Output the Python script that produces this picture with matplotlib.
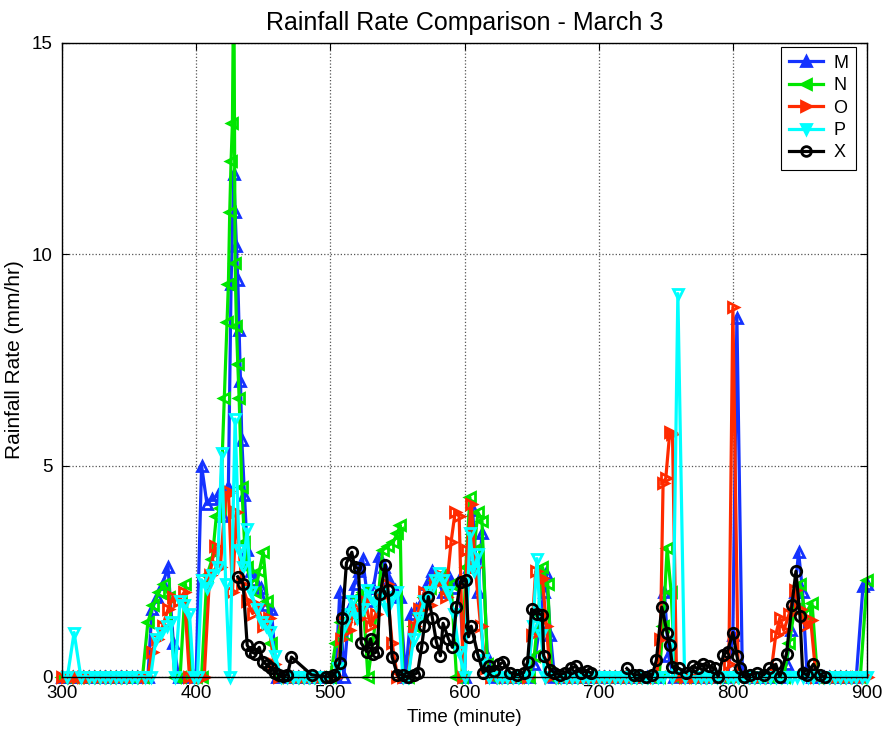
import numpy as np
import matplotlib
matplotlib.use("Agg")
import matplotlib.pyplot as plt
from matplotlib.lines import Line2D

plt.rcParams['font.family'] = ['Liberation Sans', 'DejaVu Sans']

# ---------------- Dados (minuto do dia, mm/h) ----------------
# instantes sem chuva, amostrados a cada 4 min
dry_times = np.arange(300, 901, 4)

m_time = [364, 367, 371, 375, 379, 383, 387, 395, 400, 404, 408, 412, 416, 420, 424, 426, 428, 429, 430, 431,
          432, 433, 434, 436, 438, 441, 444, 448, 452, 456, 460,
          500, 504, 507, 510, 514, 518, 521, 524, 528, 532, 536, 540, 544, 548, 552, 556, 560, 564, 568, 572,
          576, 580, 584, 588, 592, 596, 600, 603, 606, 610, 613, 617, 621,
          648, 652, 656, 659, 661, 664, 667,
          744, 749, 752, 756,
          796, 800, 803, 807, 811,
          836, 840, 843, 846, 849, 852, 855, 859,
          892, 897, 900]
m_rate = [0, 1.6, 1.9, 2.2, 2.6, 0.8, 0, 0, 0.1, 5.0, 4.1, 4.2, 4.3, 3.8, 4.5, 9.3, 11.9, 11.0, 10.2, 9.4,
          8.2, 7.0, 5.6, 4.3, 3.0, 2.5, 2.3, 2.1, 1.7, 1.6, 0,
          0, 0, 2.0, 0, 1.6, 2.2, 2.5, 2.8, 1.8, 2.1, 2.85, 2.6, 2.3, 2.05, 1.9, 0, 1.5, 1.6, 1.8, 2.2,
          2.5, 2.3, 2.0, 2.4, 2.1, 2.3, 0, 2.6, 3.95, 2.0, 3.4, 0.5, 0,
          0, 0.3, 1.2, 2.0, 2.45, 1.0, 0,
          0, 2.0, 0.5, 0,
          0, 1.0, 8.5, 0.2, 0,
          0, 0.3, 1.1, 2.0, 2.95, 2.0, 0.2, 0,
          0, 2.15, 2.2]

n_time = [360, 364, 368, 372, 376, 380, 384, 388, 392, 396, 400, 404, 408, 412, 415, 418, 421, 423, 424, 425,
          426, 427, 428, 429, 430, 431, 432, 434, 436, 438, 441, 444, 447, 450, 453, 456, 460,
          500, 504, 508, 512, 516, 520, 524, 528, 532, 536, 539, 543, 547, 550, 552, 554, 558, 562, 566, 570,
          574, 578, 582, 586, 590, 594, 598, 601, 604, 607, 610, 613, 617, 621,
          648, 652, 655, 658, 662, 665,
          745, 748, 751, 754, 757,
          838, 842, 846, 850, 854, 859, 863,
          895, 900]
n_rate = [0, 1.3, 1.7, 2.0, 2.2, 1.9, 0, 0, 2.2, 0, 0, 0, 2.4, 2.8, 3.8, 4.0, 6.6, 8.4, 9.3, 11.0,
          12.2, 13.1, 17.0, 9.8, 8.3, 7.4, 6.6, 4.5, 3.2, 2.6, 2.2, 2.0, 2.5, 2.95, 1.8, 0.8, 0,
          0, 0.8, 1.3, 1.0, 1.5, 1.9, 2.0, 0, 0.9, 2.0, 3.0, 3.1, 3.2, 3.4, 3.6, 0, 0, 1.2, 1.5, 1.9,
          2.1, 2.3, 2.4, 2.0, 2.2, 0, 0, 2.6, 4.25, 3.0, 3.9, 3.7, 0.3, 0,
          0, 0.5, 1.5, 2.6, 2.2, 0,
          0, 1.2, 3.05, 2.0, 0,
          0, 0.8, 1.6, 2.2, 1.5, 1.75, 0,
          0, 2.3]

o_time = [360, 364, 367, 371, 375, 379, 383, 387, 391, 395, 399, 403, 406, 410, 414, 418, 422, 424, 427, 430,
          434, 438, 442, 446, 450, 454, 458, 462,
          500, 504, 508, 511, 514, 518, 522, 526, 530, 534, 538, 542, 546, 550, 554, 558, 562, 566, 570, 574,
          578, 582, 586, 590, 593, 596, 599, 602, 605, 608, 612, 616, 620,
          647, 650, 653, 656, 658, 661, 664,
          743, 746, 748, 750, 753, 755, 758,
          795, 797, 800, 804,
          828, 832, 835, 838, 842, 846, 850, 854, 858, 862]
o_rate = [0, 0, 0.6, 0.9, 1.2, 1.6, 1.9, 1.8, 2.0, 0, 0, 0, 0, 2.4, 3.1, 2.6, 4.3, 4.4, 2.0, 3.9,
          2.2, 1.8, 1.5, 1.7, 1.2, 1.4, 0.3, 0,
          0, 0, 0.9, 1.3, 1.1, 1.65, 1.4, 1.8, 1.2, 1.5, 1.9, 2.2, 0.8, 0, 0, 0, 1.2, 1.6, 2.0, 1.7,
          2.2, 2.4, 1.9, 3.2, 3.9, 3.8, 0, 3.0, 4.1, 2.6, 1.2, 0.2, 0,
          0, 1.0, 2.5, 2.3, 2.35, 1.2, 0,
          0, 0.9, 4.6, 4.7, 5.8, 5.75, 0,
          0, 0.3, 8.75, 0,
          0, 1.0, 1.4, 1.1, 1.5, 2.05, 1.6, 1.2, 1.35, 0]

p_time = [304, 309, 314,
          362, 366, 370, 374, 378, 381, 384, 388, 391, 395, 398, 401, 404, 408, 412, 416, 419, 422, 425, 429,
          432, 435, 438, 441, 445, 449, 452, 455, 459, 463,
          502, 506, 510, 513, 516, 520, 524, 527, 530, 534, 538, 542, 546, 550, 554, 558, 562, 566, 570, 574,
          578, 581, 584, 588, 592, 596, 600, 604, 607, 610, 614, 618,
          647, 651, 654, 657, 660,
          755, 759, 764]
p_rate = [0, 1.05, 0,
          0, 0, 0.9, 1.05, 1.2, 1.3, 0, 1.8, 1.7, 1.5, 0, 0, 2.3, 2.1, 2.4, 2.6, 5.3, 2.2, 0, 6.1,
          3.0, 2.6, 3.5, 2.0, 1.6, 1.3, 1.2, 1.07, 0.5, 0,
          0, 0.2, 1.2, 1.5, 1.8, 1.4, 1.6, 2.05, 1.9, 1.7, 2.0, 1.6, 1.9, 2.0, 0, 0, 0.9, 1.4, 1.8, 2.0,
          2.3, 2.45, 2.3, 2.0, 1.5, 0.6, 0, 3.4, 2.5, 2.9, 0.4, 0,
          0, 1.2, 2.8, 1.0, 0,
          0, 9.07, 0]

# pluviógrafo de referência (sem registro antes de 431 e entre 695 e 720)
x_time = [431, 435, 438, 441, 444, 447, 450, 453, 456, 459, 462, 465, 468, 471, 486, 497, 500, 503, 507, 509,
          512, 516, 518, 521, 523, 527, 530, 532, 535, 537, 541, 543, 546, 550, 554, 558, 562, 565, 568, 570,
          573, 576, 579, 582, 584, 588, 591, 594, 597, 601, 603, 605, 610, 614, 618, 622, 626, 629, 634, 639,
          644, 647, 650, 654, 658, 659, 664, 667, 671, 675, 679, 683, 687, 691, 694, 707,
          721, 726, 730, 735, 740, 743, 747, 751, 753, 755, 760, 765, 770, 774, 778, 782, 787, 789, 793, 796,
          800, 803, 805, 808, 813, 818, 823, 827, 832, 835, 840, 844, 847, 850, 852, 855, 860, 865, 869]
x_rate = [2.37, 2.2, 0.75, 0.6, 0.55, 0.7, 0.35, 0.28, 0.2, 0.1, 0.05, 0.02, 0.05, 0.47, 0.05, 0.0, 0.0, 0.05, 0.33, 1.4,
          2.7, 2.95, 2.6, 2.57, 0.8, 0.6, 0.9, 0.55, 0.6, 1.95, 2.65, 2.05, 0.47, 0.05, 0.05, 0.0, 0.05, 0.1, 0.7, 1.2,
          1.9, 1.4, 0.83, 0.5, 1.27, 0.9, 0.7, 1.65, 2.25, 2.3, 0.95, 1.2, 0.52, 0.1, 0.25, 0.15, 0.3, 0.35, 0.1, 0.05,
          0.1, 0.35, 1.6, 1.5, 1.47, 0.5, 0.17, 0.1, 0.05, 0.1, 0.2, 0.25, 0.1, 0.15, 0.1, np.nan,
          0.2, 0.05, 0.05, 0.0, 0.05, 0.4, 1.65, 1.05, 0.75, 0.23, 0.2, 0.1, 0.25, 0.2, 0.3, 0.25, 0.2, 0.0, 0.52, 0.6,
          1.05, 0.5, 0.2, 0.0, 0.05, 0.1, 0.05, 0.2, 0.3, 0.0, 0.55, 1.7, 2.5, 1.45, 0.1, 0.05, 0.3, 0.05, 0.0]

labels = ['M', 'N', 'O', 'P', 'X']
cores = ['#1432ff', '#00e600', '#ff2a00', '#00ffff', '#000000']
marcadores = ['^', '<', '>', 'v', 'o']


def junta_periodo_seco(tempo, taxa):
    # completa a série com zeros nos instantes longe dos eventos de chuva
    tempo = np.asarray(tempo, float)
    taxa = np.asarray(taxa, float)
    dist = np.min(np.abs(dry_times[:, None] - tempo[None, :]), axis=1)
    seco = dry_times[dist > 4.5]
    tt = np.concatenate([seco, tempo])
    vv = np.concatenate([np.zeros(len(seco)), taxa])
    ordem = np.argsort(tt, kind='stable')
    return tt[ordem], vv[ordem]


series = [junta_periodo_seco(m_time, m_rate),
          junta_periodo_seco(n_time, n_rate),
          junta_periodo_seco(o_time, o_rate),
          junta_periodo_seco(p_time, p_rate),
          (np.asarray(x_time, float), np.asarray(x_rate, float))]

# ---------------- Gráfico ----------------
fig = plt.figure(figsize=(8.86, 7.31), dpi=100)
ax = fig.add_axes([0.070, 0.074, 0.9086, 0.8672])

for k, (tt, vv) in enumerate(series):
    z = 3 + 2 * k
    ax.plot(tt, vv, color=cores[k], lw=2.3, zorder=z)
    dentro = ~np.isnan(vv) & (vv <= 15)
    ms = 7.5 if marcadores[k] == 'o' else 7
    ax.plot(tt[dentro], vv[dentro], ls='none', marker=marcadores[k], ms=ms, mew=2.0,
            mfc='none', mec=cores[k], clip_on=False, zorder=z + 1)

ax.set_xlim(300, 900)
ax.set_ylim(0, 15)
ax.set_xticks([300, 400, 500, 600, 700, 800, 900])
ax.set_yticks([0, 5, 10, 15])
ax.tick_params(direction='in', length=5, labelsize=13.5, top=True, right=True)
ax.tick_params(axis='x', pad=6)
ax.tick_params(axis='y', pad=7)
ax.grid(True, linestyle=':', color='#555555', linewidth=0.9)
for s in ax.spines.values():
    s.set_linewidth(1.0)
    s.set_zorder(20)

ax.set_title('Rainfall Rate Comparison - March 3', fontsize=18, pad=9)
ax.set_xlabel('Time (minute)', fontsize=13.5, labelpad=5)
ax.set_ylabel('Rainfall Rate (mm/hr)', fontsize=15, labelpad=5)

handles = [Line2D([0], [0], color=cores[k], lw=2.3, marker=marcadores[k], ms=7, mew=2.0,
                  mfc='none' if marcadores[k] == 'o' else cores[k], mec=cores[k])
           for k in range(5)]
leg = ax.legend(handles, labels, loc='upper right', bbox_to_anchor=(0.989, 0.997), fontsize=13,
                handlelength=1.9, handletextpad=0.55, borderpad=0.45, labelspacing=0.3,
                borderaxespad=0.1, fancybox=False, edgecolor='black', framealpha=1)
leg.get_frame().set_linewidth(0.8)
leg.set_zorder(30)

plt.savefig('out.png', dpi=100)
